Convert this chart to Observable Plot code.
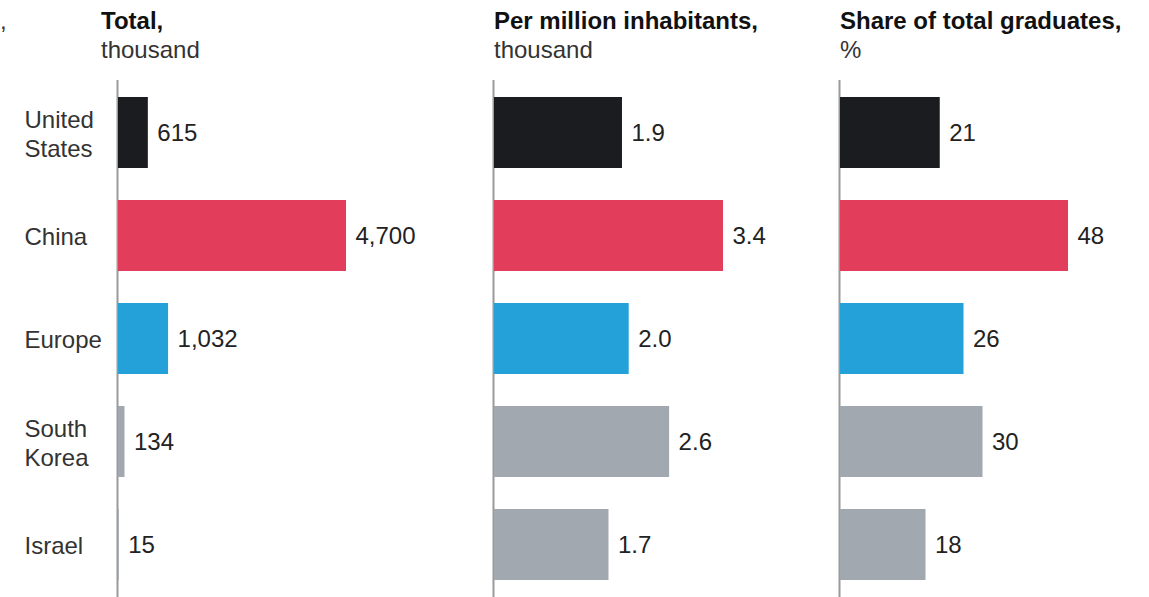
<!DOCTYPE html>
<html>
<head>
<meta charset="utf-8">
<script src="https://cdn.jsdelivr.net/npm/d3@7"></script>
<script src="https://cdn.jsdelivr.net/npm/@observablehq/plot@0.6"></script>
<style>
  html, body { margin: 0; padding: 0; background: #fff; }
  #chart { position: relative; width: 1149px; height: 597px; overflow: hidden; font-family: "Liberation Sans", Arial, sans-serif; }
  .title { position: absolute; top: 6px; font-size: 24px; line-height: 29px; color: #111; white-space: nowrap; }
  .title b { font-weight: bold; color: #111; }
  .title span { color: #333; }
  .panel { position: absolute; top: 80px; }
</style>
</head>
<body>
<div id="chart"></div>
<script>
// ---- data ----
const countries = ["United States", "China", "Europe", "South Korea", "Israel"];
const countryLabels = ["United\nStates", "China", "Europe", "South\nKorea", "Israel"];
const totalThousand = [615, 4700, 1032, 134, 15];
const perMillionThousand = [1.9, 3.4, 2.0, 2.6, 1.7];
const shareOfGraduatesPct = [21, 48, 26, 30, 18];
const barColors = ["#1b1c20", "#e23d5b", "#25a1d9", "#a1a8af", "#a1a8af"];
const panelTitles = ["Total,", "Per million inhabitants,", "Share of total graduates,"];
const panelUnits = ["thousand", "thousand", "%"];

// ---- layout ----
const panels = [
  {values: totalThousand, fmt: d3.format(","), left: 0, width: 450, ml: 118, mr: 104, titleX: 101, labels: true},
  {values: perMillionThousand, fmt: d3.format(".1f"), left: 450, width: 380, ml: 44, mr: 107, titleX: 494, labels: false},
  {values: shareOfGraduatesPct, fmt: d3.format("d"), left: 830, width: 319, ml: 10, mr: 81, titleX: 840, labels: false}
];

const chart = document.getElementById("chart");

// small comma fragment at the top-left edge of the reference
const frag = document.createElement("div");
frag.className = "title";
frag.style.left = "0px";
frag.style.color = "#333";
frag.textContent = ",";
chart.appendChild(frag);

panels.forEach((p, i) => {
  const t = document.createElement("div");
  t.className = "title";
  t.style.left = p.titleX + "px";
  t.innerHTML = `<b>${panelTitles[i]}</b><br><span>${panelUnits[i]}</span>`;
  chart.appendChild(t);

  const data = countries.map((c, j) => ({country: c, label: countryLabels[j], value: p.values[j]}));

  const marks = [
    Plot.ruleX([0], {stroke: "#9a9a9a", strokeWidth: 2, dx: -1}),
    Plot.barX(data, {x: "value", y: "country", fill: "country"}),
    Plot.text(data, {x: "value", y: "country", text: d => p.fmt(d.value), textAnchor: "start", dx: 9, fontSize: 24, fill: "#222"})
  ];
  if (p.labels) {
    marks.push(Plot.text(data, {y: "country", text: "label", frameAnchor: "left", textAnchor: "start", dx: -94, fontSize: 24, lineHeight: 1.2, fill: "#333"}));
  }

  const svg = Plot.plot({
    width: p.width,
    height: 517,
    marginLeft: p.ml,
    marginRight: p.mr,
    marginTop: 0,
    marginBottom: 0,
    x: {axis: null},
    y: {axis: null, domain: countries, paddingInner: 0.31, paddingOuter: 0.155},
    color: {domain: countries, range: barColors},
    style: {fontFamily: "Liberation Sans, Arial, sans-serif", fontSize: "24px", background: "transparent", overflow: "visible"},
    marks
  });
  svg.classList.add("panel");
  svg.style.left = p.left + "px";
  svg.style.position = "absolute";
  svg.style.top = "80px";
  chart.appendChild(svg);
});
</script>
</body>
</html>
